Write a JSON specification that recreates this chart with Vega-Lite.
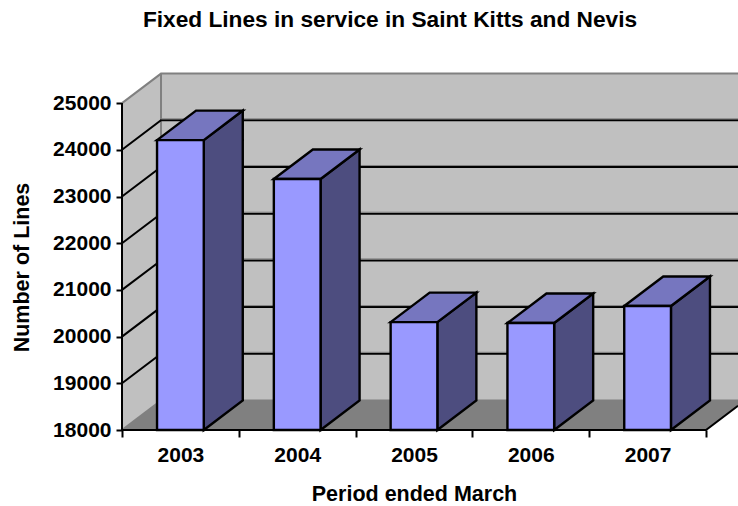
{
"$schema":"https://vega.github.io/schema/vega-lite/v6.json",
"width":616,"height":360,"autosize":"none",
"padding":{"left":122,"top":70,"right":0,"bottom":76},
"background":"white",
"title":{"text":"Fixed Lines in service in Saint Kitts and Nevis","font":"Liberation Sans","fontWeight":"bold","fontSize":22.7,"color":"black","anchor":"middle","frame":"group","dx":-40,"offset":38},
"config":{"view":{"stroke":null},"line":{"strokeCap":"butt"}},
"datasets":{
"bars":[{"year":2003,"lines":24208},{"year":2004,"lines":23375},{"year":2005,"lines":20310},{"year":2006,"lines":20290},{"year":2007,"lines":20655}],
"grid":[{"tick":19000},{"tick":20000},{"tick":21000},{"tick":22000},{"tick":23000},{"tick":24000}],
"wall":[{"x":0,"y":25000,"y2":18000,"part":"left"},{"x":0.334,"y":25632,"y2":18632,"part":"left"},{"x":0.334,"y":25632,"y2":18632,"part":"back"},{"x":5.274,"y":25632,"y2":18632,"part":"back"}],
"floor":[{"x":0,"y":18000,"y2":18000},{"x":0.334,"y":18632,"y2":18000},{"x":5,"y":18632,"y2":18000},{"x":5.274,"y":18632,"y2":18518}],
"edges":[{"x":0,"y":25000,"e":"a","n":1},{"x":0.334,"y":25632,"e":"a","n":2},{"x":5.274,"y":25632,"e":"a","n":3},{"x":0.334,"y":25632,"e":"b","n":1},{"x":0.334,"y":18632,"e":"b","n":2},{"x":5.274,"y":18632,"e":"b","n":3},{"x":0,"y":18000,"e":"c","n":1},{"x":0.334,"y":18632,"e":"c","n":2}],
"axes":[{"x":0,"y":25000,"n":1},{"x":0,"y":18000,"n":2},{"x":5,"y":18000,"n":3},{"x":5.274,"y":18518,"n":4}]
},
"encoding":{
"x":{"field":"x","type":"quantitative","scale":{"domain":[0,5.274],"nice":false,"zero":false},
"axis":{"values":[0,0.5,1,1.5,2,2.5,3,3.5,4,4.5,5],"grid":false,"domain":false,"tickColor":"black","tickWidth":2,"tickSize":7,
"tickOpacity":{"condition":{"test":"datum.value % 1 != 0","value":0},"value":1},
"labelExpr":"datum.value % 1 != 0 ? '' + (2003 + floor(datum.value)) : ''","labelOverlap":false,"labelFlush":false,"labelFont":"Liberation Sans","labelFontWeight":"bold","labelFontSize":21,"labelColor":"black","labelPadding":7,
"title":"Period ended March","titleFont":"Liberation Sans","titleFontWeight":"bold","titleFontSize":21.5,"titleColor":"black","titleX":292,"titleY":70,"titleAnchor":"middle","titleBaseline":"alphabetic"}},
"y":{"field":"y","type":"quantitative","scale":{"domain":[18000,25709],"nice":false,"zero":false},
"axis":{"values":[18000,19000,20000,21000,22000,23000,24000,25000],"grid":false,"domain":false,"tickColor":"black","tickWidth":2,"tickSize":6,"labelFont":"Liberation Sans","labelFontWeight":"bold","labelFontSize":21,"labelColor":"black","labelPadding":5,"format":"d",
"title":"Number of Lines","titleFont":"Liberation Sans","titleFontWeight":"bold","titleFontSize":21.5,"titleColor":"black","titleX":-94,"titleY":197,"titleAnchor":"middle","titleBaseline":"alphabetic"}}
},
"layer":[
{"data":{"name":"wall"},"mark":{"type":"area","fill":"#C0C0C0"},"encoding":{"y2":{"field":"y2"},"detail":{"field":"part"}}},
{"data":{"name":"floor"},"mark":{"type":"area","fill":"#808080"},"encoding":{"y2":{"field":"y2"}}},
{"data":{"name":"edges"},"mark":{"type":"line","stroke":"#808080","strokeWidth":2},"encoding":{"detail":{"field":"e"},"order":{"field":"n"}}},
{"data":{"name":"grid"},"transform":[{"calculate":"[0,1,2]","as":"k"},{"flatten":["k"]},{"calculate":"[0,0.334,5.274][datum.k]","as":"x"},{"calculate":"datum.k==0?datum.tick:datum.tick+632","as":"y"}],"mark":{"type":"line","stroke":"black","strokeWidth":2},"encoding":{"detail":{"field":"tick"}}},
{"data":{"name":"grid"},"transform":[{"calculate":"[1,2]","as":"k"},{"flatten":["k"]},{"calculate":"[0,0.334,5.274][datum.k]","as":"x"},{"calculate":"datum.tick+632","as":"y"}],"mark":{"type":"line","stroke":"#808080","strokeWidth":1,"yOffset":-1.5},"encoding":{"detail":{"field":"tick"}}},
{"data":{"name":"axes"},"mark":{"type":"line","stroke":"black","strokeWidth":2},"encoding":{"order":{"field":"n"}}},
{"data":{"name":"bars"},"transform":[{"calculate":"datum.year-2003+0.7","as":"x1"},{"calculate":"[0,1]","as":"k"},{"flatten":["k"]},{"calculate":"datum.x1+datum.k*0.334","as":"x"},{"calculate":"18000+datum.k*632","as":"y2"},{"calculate":"datum.lines+datum.k*632","as":"y"}],"mark":{"type":"area","fill":"#4D4D7F","stroke":"black","strokeWidth":2.4,"strokeJoin":"miter"},"encoding":{"y2":{"field":"y2"},"detail":{"field":"year"}}},
{"data":{"name":"bars"},"transform":[{"calculate":"datum.year-2003+0.3","as":"x0"},{"calculate":"[0,1,2,3]","as":"k"},{"flatten":["k"]},{"calculate":"datum.x0+[0,0.334,0.4,0.734][datum.k]","as":"x"},{"calculate":"datum.k==0?datum.lines:datum.lines+632","as":"y"},{"calculate":"datum.k==3?datum.lines+632:datum.lines","as":"y2"}],"mark":{"type":"area","fill":"#7676BF","stroke":"black","strokeWidth":2.4,"strokeJoin":"miter"},"encoding":{"y2":{"field":"y2"},"detail":{"field":"year"}}},
{"data":{"name":"bars"},"transform":[{"calculate":"datum.year-2003+0.3","as":"x"},{"calculate":"datum.x+0.4","as":"x2"},{"calculate":"datum.lines","as":"y"},{"calculate":"18000","as":"y2"}],"mark":{"type":"rect","fill":"#9999FF","stroke":"black","strokeWidth":2.4},"encoding":{"x2":{"field":"x2"},"y2":{"field":"y2"}}}
]
}
